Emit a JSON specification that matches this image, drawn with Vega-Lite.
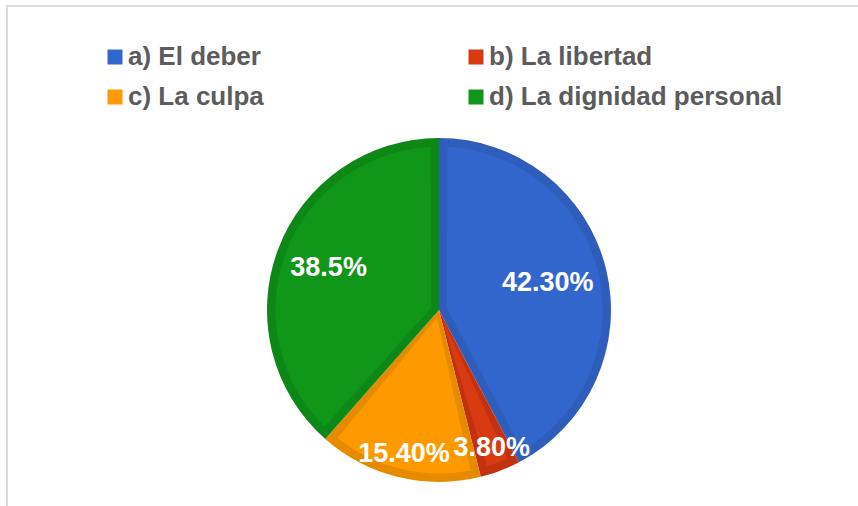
{
  "$schema": "https://vega.github.io/schema/vega-lite/v6.json",
  "width": 864,
  "height": 608,
  "autosize": {"type": "none"},
  "padding": {"left": 7, "top": 6, "right": -13, "bottom": -108},
  "background": "white",
  "view": {"stroke": "#dcdcdc", "strokeWidth": 2, "fill": "white"},
  "config": {"view": {"stroke": "#dcdcdc", "strokeWidth": 2}},
  "data": {
    "values": [
      {"cat": "a) El deber", "value": 42.3, "label": "42.30%"},
      {"cat": "b) La libertad", "value": 3.8, "label": "3.80%"},
      {"cat": "c) La culpa", "value": 15.4, "label": "15.40%"},
      {"cat": "d) La dignidad personal", "value": 38.5, "label": "38.5%"}
    ]
  },
  "layer": [
    {
      "mark": {"type": "arc", "outerRadius": 172, "innerRadius": 0},
      "encoding": {
        "theta": {"field": "value", "type": "quantitative", "stack": true},
        "order": {"field": "cat", "type": "ordinal", "sort": "ascending"},
        "color": {
          "field": "cat",
          "type": "nominal",
          "legend": null,
          "scale": {
            "domain": ["a) El deber", "b) La libertad", "c) La culpa", "d) La dignidad personal"],
            "range": ["#2e5dbb", "#c2320f", "#e68a00", "#0d8716"]
          }
        }
      }
    },
    {
      "mark": {"type": "arc", "outerRadius": 163.5, "innerRadius": 8, "padAngle": 0.1039},
      "encoding": {
        "theta": {"field": "value", "type": "quantitative", "stack": true},
        "order": {"field": "cat", "type": "ordinal", "sort": "ascending"},
        "color": {
          "field": "cat",
          "type": "nominal",
          "scale": {
            "domain": ["a) El deber", "b) La libertad", "c) La culpa", "d) La dignidad personal"],
            "range": ["#3366cc", "#d83a12", "#ff9900", "#109618"]
          },
          "legend": {
            "title": null,
            "orient": "none",
            "direction": "horizontal",
            "legendX": 95,
            "legendY": 38,
            "columns": 2,
            "columnPadding": 199,
            "rowPadding": 14,
            "symbolType": "square",
            "symbolSize": 225,
            "symbolStrokeWidth": 0,
            "labelFont": "Liberation Sans",
            "labelFontWeight": "bold",
            "labelFontSize": 26,
            "labelColor": "#5c5c5c",
            "labelOffset": 0,
            "labelLimit": 500
          }
        }
      }
    },
    {
      "mark": {
        "type": "text",
        "font": "Liberation Sans",
        "fontWeight": "bold",
        "fontSize": 27,
        "fill": "white",
        "align": "center",
        "baseline": "middle"
      },
      "encoding": {
        "theta": {"field": "value", "type": "quantitative", "stack": true},
        "order": {"field": "cat", "type": "ordinal", "sort": "ascending"},
        "detail": {"field": "cat", "type": "nominal"},
        "radius": {
          "field": "value",
          "type": "quantitative",
          "scale": {"type": "linear", "domain": [3.8, 15.4, 38.5, 42.3], "range": [148, 148, 118, 112], "zero": false}
        },
        "text": {"field": "label", "type": "nominal"}
      }
    }
  ],
  "resolve": {"scale": {"color": "independent"}}
}
